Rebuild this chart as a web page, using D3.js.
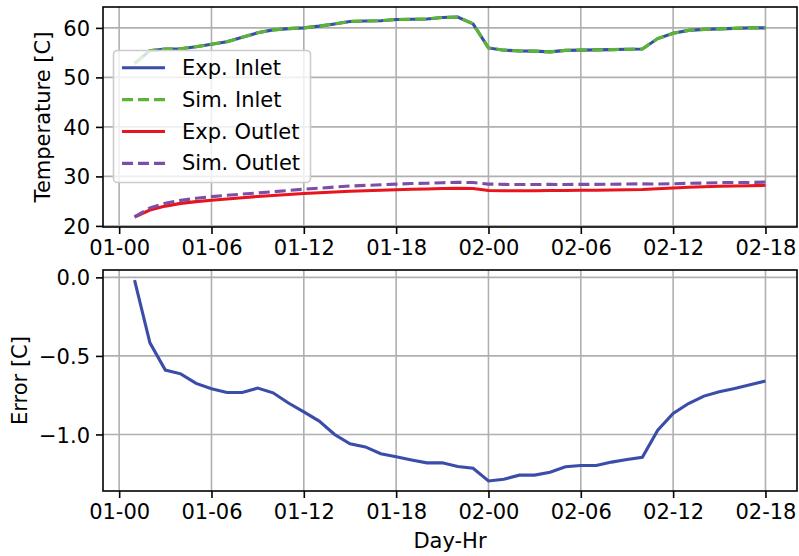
<!DOCTYPE html>
<html><head><meta charset="utf-8">
<script src="https://cdn.jsdelivr.net/npm/d3@7"></script>
<style>body{margin:0;background:#fff} text{font-family:"DejaVu Sans",sans-serif;fill:#000}</style>
</head><body>
<svg id="c" width="799" height="556"></svg>
<script>
// ---- data ----
const hours = [1,2,3,4,5,6,7,8,9,10,11,12,13,14,15,16,17,18,19,20,21,22,23,24,25,26,27,28,29,30,31,32,33,34,35,36,37,38,39,40,41,42];
const expInlet = [52.8,55.4,55.75,55.8,56.2,56.7,57.2,58.1,59.0,59.6,59.85,60.0,60.35,60.8,61.3,61.4,61.45,61.7,61.75,61.8,62.1,62.2,60.8,55.95,55.5,55.35,55.3,55.15,55.45,55.5,55.55,55.6,55.7,55.75,57.85,58.9,59.5,59.7,59.8,59.9,60.0,60.0];
const simInlet = [52.8,55.4,55.75,55.8,56.2,56.7,57.2,58.1,59.0,59.6,59.85,60.0,60.35,60.8,61.3,61.4,61.45,61.7,61.75,61.8,62.1,62.2,60.8,55.95,55.5,55.35,55.3,55.15,55.45,55.5,55.55,55.6,55.7,55.75,57.85,58.9,59.5,59.7,59.8,59.9,60.0,60.0];
const expOutlet = [21.8,23.2,24.0,24.55,24.9,25.2,25.45,25.7,25.95,26.15,26.35,26.55,26.7,26.85,27.0,27.1,27.2,27.3,27.4,27.45,27.55,27.6,27.55,27.15,27.1,27.1,27.1,27.15,27.15,27.2,27.2,27.25,27.3,27.35,27.5,27.65,27.8,27.9,28.0,28.05,28.1,28.2];
const simOutlet = [21.82,23.62,24.59,25.16,25.58,25.91,26.18,26.43,26.66,26.89,27.15,27.41,27.62,27.85,28.06,28.18,28.32,28.44,28.56,28.63,28.73,28.8,28.77,28.45,28.39,28.36,28.36,28.39,28.36,28.4,28.4,28.43,28.46,28.5,28.47,28.52,28.6,28.66,28.73,28.76,28.78,28.86];
const errorVals = [-0.017,-0.417,-0.59,-0.614,-0.675,-0.709,-0.733,-0.733,-0.705,-0.735,-0.80,-0.856,-0.915,-1.0,-1.06,-1.079,-1.123,-1.142,-1.162,-1.181,-1.18,-1.204,-1.215,-1.296,-1.285,-1.259,-1.259,-1.24,-1.206,-1.198,-1.198,-1.176,-1.16,-1.145,-0.973,-0.866,-0.803,-0.756,-0.728,-0.707,-0.684,-0.66];
const xTickVals = [0,6,12,18,24,30,36,42];
const xTickLabels = ["01-00","01-06","01-12","01-18","02-00","02-06","02-12","02-18"];
const tempTicks = [20,30,40,50,60];
const errTicks = [0.0,-0.5,-1.0];
const seriesNames = ["Exp. Inlet","Sim. Inlet","Exp. Outlet","Sim. Outlet"];
const seriesColors = ["#3a4da8","#5ab535","#e8141e","#7b4fa8"];
const seriesDashed = [false,true,false,true];

// ---- layout ----
const svg = d3.select("#c");
const L = 103, R = 797;
const top1 = [7, 227], top2 = [270, 491];
const FS = 21, LW = 3.1, dash = "11,5";
function pad(ext){const r=ext[1]-ext[0];return [ext[0]-0.05*r, ext[1]+0.05*r];}
const x = d3.scaleLinear().domain(pad(d3.extent(hours))).range([L,R]);
const allT = expInlet.concat(simInlet, expOutlet, simOutlet);
const y1 = d3.scaleLinear().domain(pad(d3.extent(allT))).range([top1[1], top1[0]]);
const y2 = d3.scaleLinear().domain(pad(d3.extent(errorVals))).range([top2[1], top2[0]]);

function panel(y, yr, yTicks, fmt, ylabel, ylabelX){
  const g = svg.append("g");
  const id = "clip"+yr[0];
  svg.append("clipPath").attr("id",id).append("rect").attr("x",L).attr("y",yr[0]).attr("width",R-L).attr("height",yr[1]-yr[0]);
  g.selectAll(".gx").data(xTickVals).enter().append("line")
    .attr("x1",d=>x(d)).attr("x2",d=>x(d)).attr("y1",yr[0]).attr("y2",yr[1])
    .attr("stroke","#b0b0b0").attr("stroke-width",1.6);
  g.selectAll(".gy").data(yTicks).enter().append("line")
    .attr("x1",L).attr("x2",R).attr("y1",d=>y(d)).attr("y2",d=>y(d))
    .attr("stroke","#b0b0b0").attr("stroke-width",1.6);
  const ax = d3.axisBottom(x).tickValues(xTickVals).tickFormat((d,i)=>xTickLabels[i]).tickSize(7).tickPadding(6);
  const ag = svg.append("g").attr("transform",`translate(0,${yr[1]})`).call(ax);
  const ay = d3.axisLeft(y).tickValues(yTicks).tickFormat(fmt).tickSize(7).tickPadding(6);
  const ayg = svg.append("g").attr("transform",`translate(${L},0)`).call(ay);
  [ag,ayg].forEach(a=>{
    a.select(".domain").remove();
    a.selectAll("line").attr("stroke","#000").attr("stroke-width",1.6);
    a.selectAll("text").attr("font-size",FS).attr("font-family","DejaVu Sans").attr("fill","#000");
  });
  ayg.selectAll("text").attr("dy","0.36em");
  svg.append("text").attr("transform",`translate(${ylabelX},${(yr[0]+yr[1])/2}) rotate(-90)`)
    .attr("text-anchor","middle").attr("dominant-baseline","central").attr("font-size",FS).text(ylabel);
  return {g, id, yr};
}
function frame(yr){
  svg.append("rect").attr("x",L).attr("y",yr[0]).attr("width",R-L).attr("height",yr[1]-yr[0])
    .attr("fill","none").attr("stroke","#000").attr("stroke-width",1.6);
}

const p1 = panel(y1, top1, tempTicks, d3.format("d"), "Temperature [C]", 43);
const series = [expInlet, simInlet, expOutlet, simOutlet];
series.forEach((s,i)=>{
  const line = d3.line().x((d,j)=>x(hours[j])).y(d=>y1(d));
  svg.append("path").datum(s).attr("d",line).attr("fill","none")
    .attr("stroke",seriesColors[i]).attr("stroke-width",LW)
    .attr("stroke-dasharray",seriesDashed[i]?dash:null)
    .attr("clip-path",`url(#${p1.id})`);
});
frame(top1);

// legend
const lg = svg.append("g");
lg.append("rect").attr("x",113.5).attr("y",50.5).attr("width",197).attr("height",132).attr("rx",4)
  .attr("fill","#fff").attr("fill-opacity",0.8).attr("stroke","#cccccc").attr("stroke-width",1.6);
seriesNames.forEach((n,i)=>{
  const yy = 67.7 + i*31.9;
  lg.append("line").attr("x1",122).attr("x2",165).attr("y1",yy).attr("y2",yy)
    .attr("stroke",seriesColors[i]).attr("stroke-width",LW).attr("stroke-dasharray",seriesDashed[i]?dash:null);
  lg.append("text").attr("x",182).attr("y",yy).attr("dominant-baseline","central").attr("font-size",FS).text(n);
});

const p2 = panel(y2, top2, errTicks, d3.format(".1f"), "Error [C]", 20);
svg.append("path").datum(errorVals).attr("d",d3.line().x((d,j)=>x(hours[j])).y(d=>y2(d)))
  .attr("fill","none").attr("stroke",seriesColors[0]).attr("stroke-width",LW)
  .attr("clip-path",`url(#${p2.id})`);
frame(top2);
svg.append("text").attr("x",(L+R)/2).attr("y",541).attr("text-anchor","middle")
  .attr("dominant-baseline","central").attr("font-size",FS).text("Day-Hr");
</script>
</body></html>
